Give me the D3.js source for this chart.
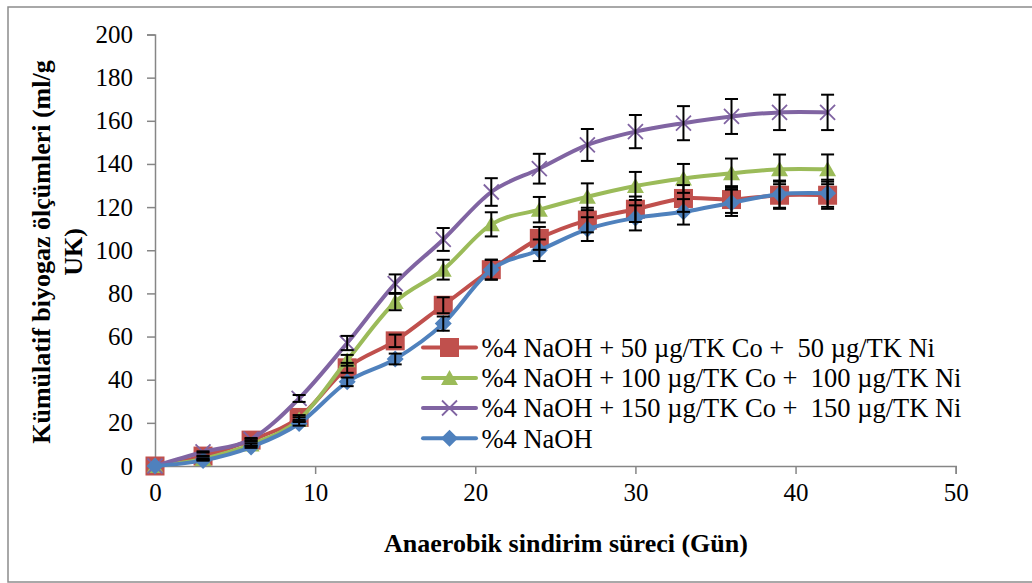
<!DOCTYPE html>
<html>
<head>
<meta charset="utf-8">
<script src="https://cdn.jsdelivr.net/npm/d3@7"></script>
<style>
  html, body { margin: 0; padding: 0; background: #fff; }
  svg { display: block; font-family: "Liberation Serif", "Times New Roman", serif; }
  text { font-family: "Liberation Serif", "Times New Roman", serif; fill: #000; }
  .leg { white-space: pre; }
</style>
</head>
<body>
<script>
// ---- data ----
const days = [0, 3, 6, 9, 12, 15, 18, 21, 24, 27, 30, 33, 36, 39, 42];
const seriesNames = [
  "%4 NaOH + 50 µg/TK Co +  50 µg/TK Ni",
  "%4 NaOH + 100 µg/TK Co +  100 µg/TK Ni",
  "%4 NaOH + 150 µg/TK Co +  150 µg/TK Ni",
  "%4 NaOH"
];
const co50 = [0, 4.6, 12, 22.5, 45.5, 58, 74.5, 91, 105.5, 114, 119, 124, 123.5, 125.5, 125.5];
const co100 = [0, 3.3, 10, 21.5, 49, 76, 91, 112, 118.8, 124.8, 129.8, 133.3, 135.7, 137.5, 137.5];
const co150 = [0, 6.5, 12.4, 31.3, 57, 84.5, 105, 127, 137.8, 148.8, 155, 158.9, 162, 163.9, 163.9];
const naoh = [0, 2.6, 8.8, 19.7, 39, 49.6, 66, 91, 100, 109.8, 115, 117.8, 122, 126, 126.4];
const err50 = [0, 0.2, 0.6, 1.1, 2.3, 2.9, 3.7, 4.6, 5.3, 5.7, 5.9, 6.2, 6.2, 6.3, 6.3];
const err100 = [0, 0.2, 0.5, 1.1, 2.5, 3.8, 4.6, 5.6, 5.9, 6.2, 6.5, 6.7, 6.8, 6.9, 6.9];
const err150 = [0, 0.3, 0.6, 1.6, 3.3, 4.3, 5.3, 6.4, 6.9, 7.4, 7.7, 7.9, 8.1, 8.2, 8.2];
const errNaoh = [0, 0.1, 0.4, 1.0, 2.0, 2.5, 3.3, 4.6, 5.0, 5.5, 5.8, 5.9, 6.1, 6.3, 6.3];
const xTicks = [0, 10, 20, 30, 40, 50];
const yTicks = [0, 20, 40, 60, 80, 100, 120, 140, 160, 180, 200];
const xTitle = "Anaerobik sindirim süreci (Gün)";
const yTitleLines = ["Kümülatif biyogaz ölçümleri (ml/g", "UK)"];

// ---- layout ----
const W = 1032, H = 583;
const svg = d3.select("body").append("svg").attr("width", W).attr("height", H);

// outer frame
svg.append("rect").attr("x", 8).attr("y", 7).attr("width", 1040).attr("height", 575)
  .attr("fill", "none").attr("stroke", "#8c8c8c").attr("stroke-width", 1.5);

const x = d3.scaleLinear().domain([0, 50]).range([155, 955.7]);
const y = d3.scaleLinear().domain([0, 200]).range([466, 34.5]);

const axisColor = "#868686";

// y axis
const yAxis = svg.append("g").attr("transform", `translate(${x(0)},0)`)
  .call(d3.axisLeft(y).tickValues(yTicks).tickSize(8).tickPadding(14).tickFormat(d3.format("d")));
yAxis.attr("font-family", null).attr("font-size", null);
yAxis.select(".domain").attr("stroke", axisColor).attr("stroke-width", 1.5);
yAxis.selectAll(".tick line").attr("stroke", axisColor).attr("stroke-width", 1.5);
yAxis.selectAll(".tick text").attr("font-size", 25).attr("fill", "#000");

// x axis
const xAxis = svg.append("g").attr("transform", `translate(0,${y(0)})`)
  .call(d3.axisBottom(x).tickValues(xTicks).tickSize(8).tickPadding(9).tickFormat(d3.format("d")));
xAxis.attr("font-family", null).attr("font-size", null);
xAxis.select(".domain").attr("stroke", axisColor).attr("stroke-width", 1.5);
xAxis.selectAll(".tick line").attr("stroke", axisColor).attr("stroke-width", 1.5);
xAxis.selectAll(".tick text").attr("font-size", 25).attr("fill", "#000");

// titles
svg.append("text").attr("x", 566).attr("y", 552).attr("text-anchor", "middle")
  .attr("font-size", 26).attr("font-weight", "bold").text(xTitle);

const yt = svg.append("text").attr("transform", "rotate(-90)").attr("text-anchor", "middle")
  .attr("font-size", 26).attr("font-weight", "bold");
yt.append("tspan").attr("x", -252).attr("y", 50).text(yTitleLines[0]);
yt.append("tspan").attr("x", -252).attr("y", 81.5).text(yTitleLines[1]);

// ---- series ----
const series = [
  { name: seriesNames[0], vals: co50, err: err50, color: "#C0504D", marker: "square" },
  { name: seriesNames[1], vals: co100, err: err100, color: "#9BBB59", marker: "triangle" },
  { name: seriesNames[2], vals: co150, err: err150, color: "#8064A2", marker: "x" },
  { name: seriesNames[3], vals: naoh, err: errNaoh, color: "#4F81BD", marker: "diamond" }
];

const line = d3.line().x(d => x(d[0])).y(d => y(d[1])).curve(d3.curveCatmullRom.alpha(0));

function drawMarker(g, type, cx, cy, color) {
  if (type === "square") {
    g.append("rect").attr("x", cx - 9.5).attr("y", cy - 9.5).attr("width", 19).attr("height", 19).attr("fill", color);
  } else if (type === "triangle") {
    g.append("path").attr("d", `M${cx},${cy - 8}L${cx + 8.5},${cy + 7}L${cx - 8.5},${cy + 7}Z`).attr("fill", color);
  } else if (type === "diamond") {
    g.append("path").attr("d", `M${cx},${cy - 8.5}L${cx + 8.5},${cy}L${cx},${cy + 8.5}L${cx - 8.5},${cy}Z`).attr("fill", color);
  } else if (type === "x") {
    g.append("path").attr("d", `M${cx - 7.5},${cy - 7.5}L${cx + 7.5},${cy + 7.5}M${cx - 7.5},${cy + 7.5}L${cx + 7.5},${cy - 7.5}`)
      .attr("stroke", color).attr("stroke-width", 1.8).attr("fill", "none");
  }
}

const plot = svg.append("g");
series.forEach(s => {
  const pts = days.map((d, i) => [d, s.vals[i]]);
  plot.append("path").attr("d", line(pts)).attr("fill", "none")
    .attr("stroke", s.color).attr("stroke-width", 4).attr("stroke-linejoin", "round").attr("stroke-linecap", "round");
  const mg = plot.append("g");
  pts.forEach(p => drawMarker(mg, s.marker, x(p[0]), y(p[1]), s.color));
});

// error bars
const eg = svg.append("g").attr("stroke", "#000").attr("stroke-width", 2);
series.forEach(s => {
  days.forEach((d, i) => {
    const e = s.err[i];
    if (e <= 0) return;
    const cx = x(d), y1 = y(s.vals[i] + e), y2 = y(s.vals[i] - e);
    eg.append("line").attr("x1", cx).attr("x2", cx).attr("y1", y1).attr("y2", y2);
    eg.append("line").attr("x1", cx - 6.5).attr("x2", cx + 6.5).attr("y1", y1).attr("y2", y1);
    eg.append("line").attr("x1", cx - 6.5).attr("x2", cx + 6.5).attr("y1", y2).attr("y2", y2);
  });
});

// legend
const legendY = [347.5, 378, 408, 438.3];
const lg = svg.append("g");
series.forEach((s, i) => {
  const ly = legendY[i];
  lg.append("line").attr("x1", 423).attr("x2", 476).attr("y1", ly).attr("y2", ly)
    .attr("stroke", s.color).attr("stroke-width", 4).attr("stroke-linecap", "round");
  drawMarker(lg, s.marker, 449.5, ly, s.color);
  lg.append("text").attr("class", "leg").attr("xml:space", "preserve")
    .attr("x", 481.5).attr("y", ly).attr("dy", "0.35em")
    .attr("font-size", 26.5).text(s.name);
});
</script>
</body>
</html>
